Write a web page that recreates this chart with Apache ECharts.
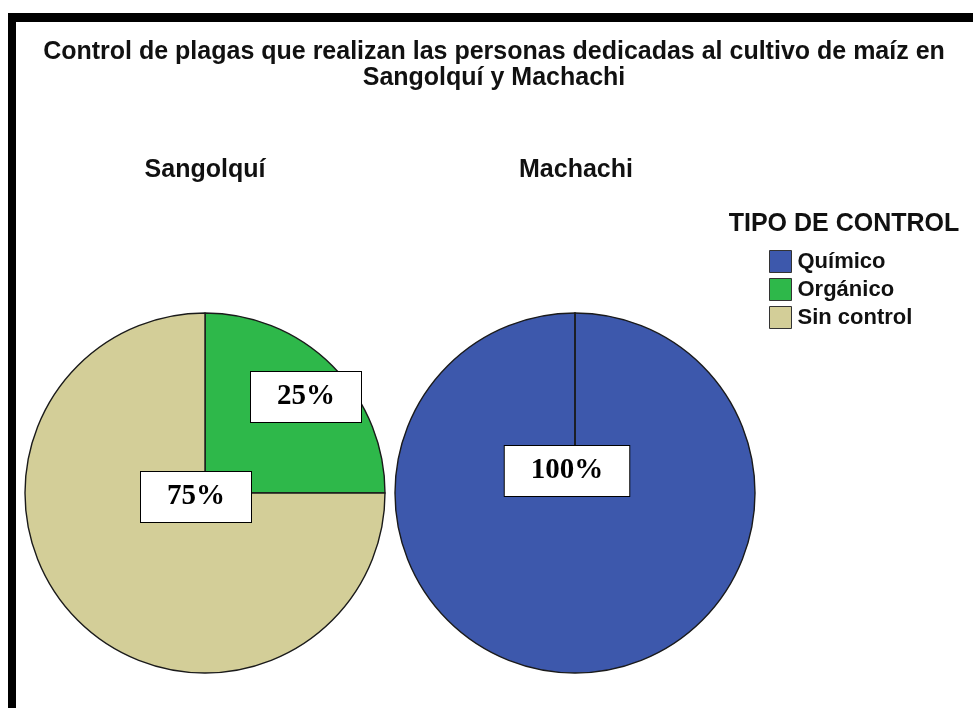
<!DOCTYPE html>
<html>
<head>
<meta charset="utf-8">
<script src="https://cdn.jsdelivr.net/npm/echarts@6/dist/echarts.min.js"></script>
<style>
html,body{margin:0;padding:0;background:#fff;}
#chart{width:973px;height:708px;}
</style>
</head>
<body>
<div id="chart"></div>
<script>
// ---- data ----
var categories = ['Químico', 'Orgánico', 'Sin control'];
var sangolquiValues = [0, 25, 75];   // % per category
var machachiValues = [100, 0, 0];    // % per category
var places = ['Sangolquí', 'Machachi'];
var chartTitle = 'Control de plagas que realizan las personas dedicadas al cultivo de maíz en\nSangolquí y Machachi';
var legendTitle = 'TIPO DE CONTROL';

// ---- styles ----
var colors = {'Químico': '#3D58AC', 'Orgánico': '#2EB84A', 'Sin control': '#D3CE98'};
var FONT = 'Liberation Sans, Arial, sans-serif';

// label offsets (relative to pie centre), by series then category
var labelOffsets = [
  {'Orgánico': [101, -96], 'Sin control': [-9, 4]},
  {'Químico': [-8, -22]}
];

function buildData(values, order) {
  return order.map(function (name) {
    var v = values[categories.indexOf(name)];
    return {
      name: name,
      value: v,
      itemStyle: {color: colors[name]},
      label: {show: v > 0}
    };
  });
}

var labelStyle = {
  show: true,
  position: 'center',
  formatter: '{c}%',
  fontFamily: 'Liberation Serif, Times New Roman, serif',
  fontWeight: 'bold',
  fontSize: 29,
  color: '#000',
  backgroundColor: '#fff',
  borderColor: '#000',
  borderWidth: 1,
  padding: [10, 26, 10, 26],
  lineHeight: 30
};

function makeSeries(idx, values, order, cx) {
  return {
    type: 'pie',
    name: places[idx],
    center: [cx, 493],
    radius: [0, 180],
    startAngle: 90,
    clockwise: true,
    avoidLabelOverlap: false,
    silent: true,
    itemStyle: {borderColor: '#1a1a1a', borderWidth: 1.4},
    label: labelStyle,
    labelLine: {show: false},
    emphasis: {disabled: true},
    labelLayout: function (p) {
      var off = labelOffsets[idx][p.dataIndex !== undefined ? order[p.dataIndex] : ''];
      if (!off) return {};
      return {dx: off[0], dy: off[1]};
    },
    data: buildData(values, order)
  };
}

var headStyle = {fontFamily: FONT, fontSize: 25, fontWeight: 'bold', color: '#111', lineHeight: 25};
var mainStyle = {fontFamily: FONT, fontSize: 25, fontWeight: 'bold', color: '#111', lineHeight: 26};

var chart = echarts.init(document.getElementById('chart'), null, {renderer: 'canvas'});
var option = {
  animation: false,
  backgroundColor: '#fff',
  title: [
    {text: chartTitle, left: 494, top: 39, textAlign: 'center', padding: 0, textStyle: mainStyle},
    {text: places[0], left: 205, top: 158, textAlign: 'center', padding: 0, textStyle: headStyle},
    {text: places[1], left: 576, top: 158, textAlign: 'center', padding: 0, textStyle: headStyle},
    {text: legendTitle, left: 844, top: 212, textAlign: 'center', padding: 0, textStyle: headStyle}
  ],
  legend: {
    data: categories,
    orient: 'vertical',
    left: 769,
    top: 250,
    padding: 0,
    itemWidth: 22,
    itemHeight: 22,
    itemGap: 5,
    icon: 'rect',
    selectedMode: false,
    itemStyle: {borderColor: '#333', borderWidth: 1},
    textStyle: {fontFamily: FONT, fontSize: 22, fontWeight: 'bold', color: '#111', lineHeight: 22, padding: [0, 0, 0, 1]}
  },
  graphic: [
    {type: 'rect', shape: {x: 8, y: 13, width: 965, height: 9}, style: {fill: '#000'}, silent: true},
    {type: 'rect', shape: {x: 8, y: 13, width: 8, height: 695}, style: {fill: '#000'}, silent: true}
  ],
  series: [
    makeSeries(0, sangolquiValues, ['Orgánico', 'Sin control'], 205),
    makeSeries(1, machachiValues, ['Químico', 'Orgánico', 'Sin control'], 575)
  ]
};
chart.setOption(option);
</script>
</body>
</html>
